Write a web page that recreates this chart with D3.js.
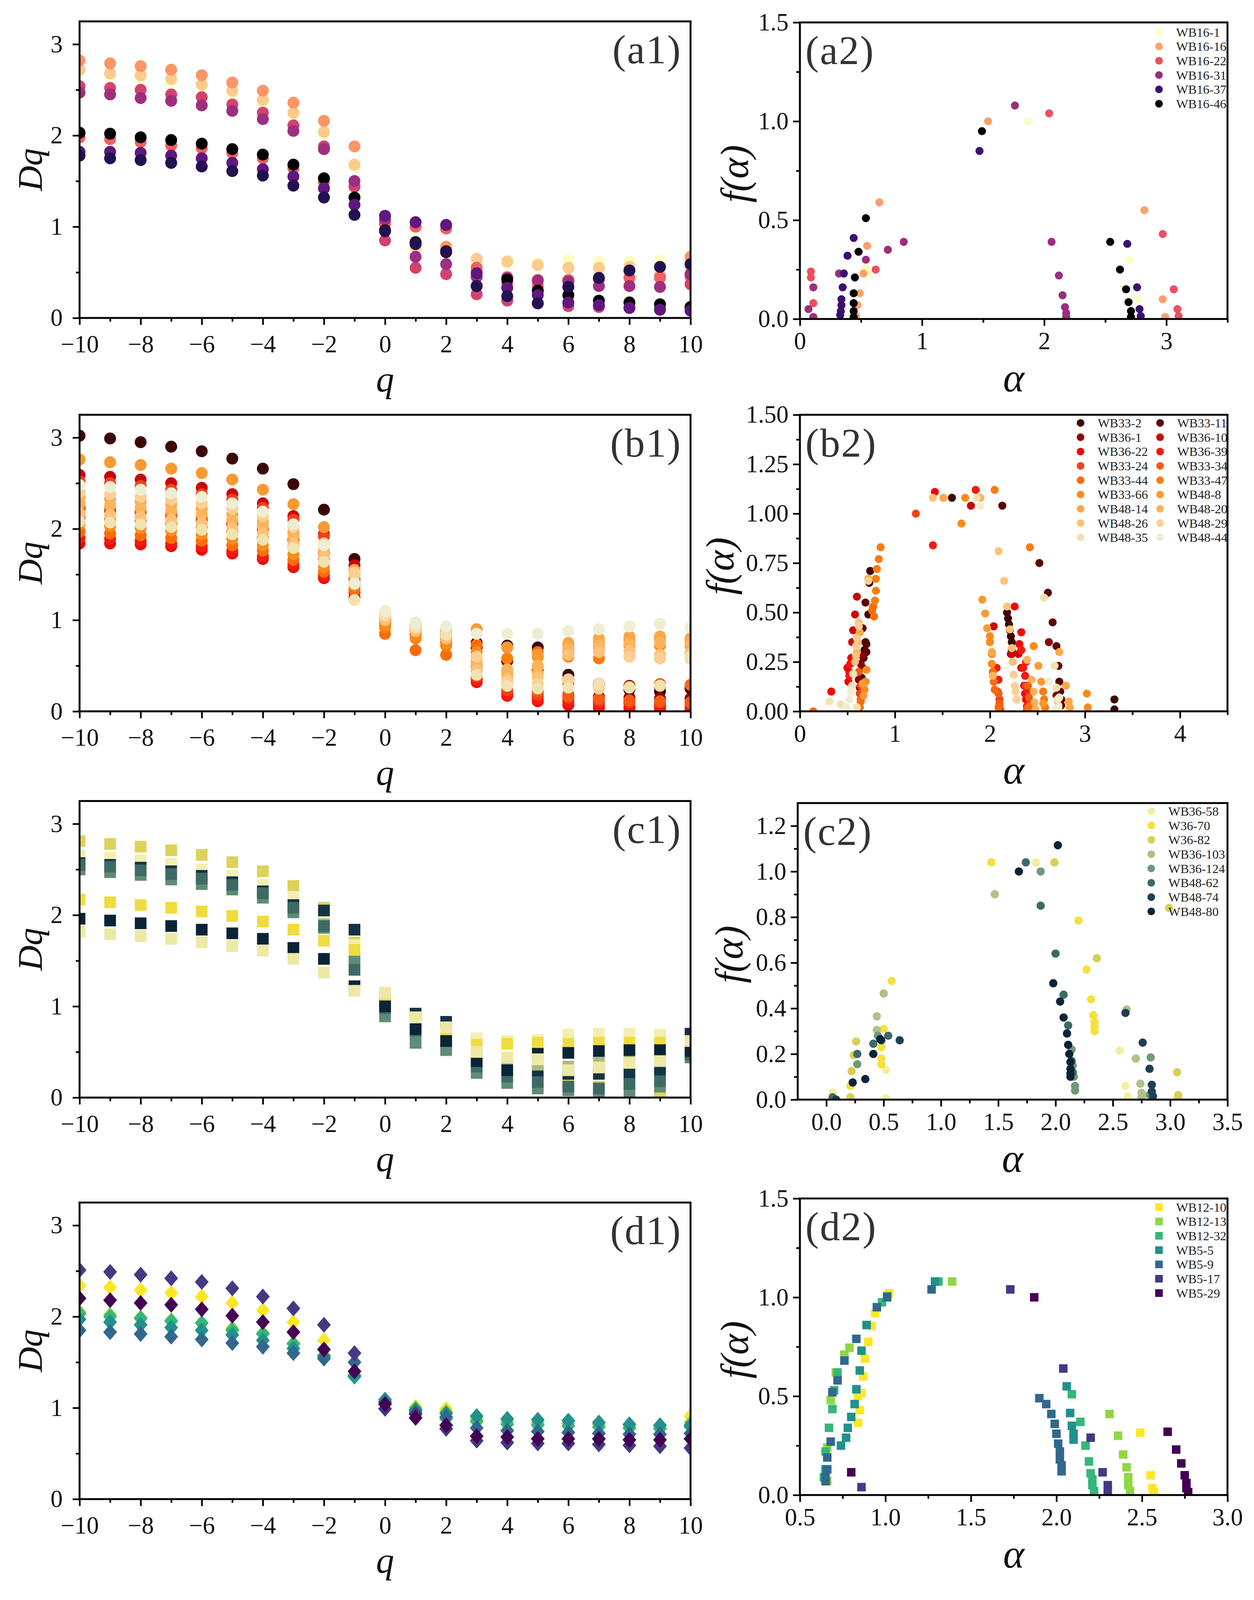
<!DOCTYPE html>
<html lang="en">
<head>
<meta charset="UTF-8">
<title>Dq and f(alpha) spectra</title>
<script src="https://cdn.jsdelivr.net/npm/d3@7"></script>
<style>
  html, body { margin: 0; padding: 0; background: #fff; overflow: hidden; }
  #fig { display: block; }
  text { font-family: "Liberation Serif", "Times New Roman", serif; }
</style>
</head>
<body>
<svg id="fig"></svg>
<script>
// ---- data ----
var qValues = [-10,-9,-8,-7,-6,-5,-4,-3,-2,-1,0,1,2,3,4,5,6,7,8,9,10];

// (a1) generalized dimensions, magma tones
var a1Colors = ["#fcfdbf","#feca8d","#fd9567","#f1605d","#d3436e","#9e2f7f","#000004","#5f187f","#231151"];
var a1Dq = [
  [2.70,2.66,2.63,2.59,2.54,2.47,2.37,2.23,2.02,1.65, 1.00,0.80,0.75,0.60,0.60,0.60,0.63,0.62,0.62,0.63,0.62],
  [2.72,2.68,2.66,2.62,2.56,2.49,2.39,2.25,2.04,1.68, 1.02,0.78,0.76,0.65,0.62,0.58,0.55,0.55,0.56,0.55,0.55],
  [2.82,2.79,2.76,2.72,2.66,2.58,2.49,2.36,2.16,1.88, 1.05,0.82,0.78,0.52,0.45,0.42,0.42,0.43,0.44,0.46,0.67],
  [1.98,1.96,1.93,1.89,1.86,1.81,1.75,1.64,1.49,1.44, 1.03,1.00,0.98,0.55,0.38,0.35,0.41,0.42,0.44,0.44,0.45],
  [2.54,2.52,2.50,2.45,2.42,2.34,2.25,2.11,1.88,1.44, 0.85,0.55,0.48,0.26,0.19,0.16,0.13,0.12,0.11,0.10,0.37],
  [2.47,2.45,2.41,2.38,2.33,2.27,2.18,2.05,1.85,1.50, 1.08,0.67,0.59,0.45,0.44,0.41,0.40,0.35,0.35,0.34,0.48],
  [2.03,2.02,1.98,1.95,1.91,1.85,1.79,1.68,1.53,1.32, 0.96,0.83,0.73,0.35,0.42,0.30,0.25,0.19,0.17,0.15,0.12],
  [1.82,1.82,1.81,1.78,1.75,1.70,1.63,1.55,1.42,1.24, 1.12,1.05,1.02,0.49,0.33,0.25,0.17,0.14,0.11,0.09,0.08],
  [1.78,1.75,1.73,1.70,1.66,1.61,1.56,1.45,1.32,1.13, 0.95,0.81,0.72,0.35,0.24,0.16,0.34,0.44,0.52,0.56,0.59]
];

// (a2) singularity spectra
var aNames = ["WB16-1","WB16-16","WB16-22","WB16-31","WB16-37","WB16-46"];
var aColors = ["#fcfdbf","#fe9f6d","#ec5062","#9c2e7f","#3b0f70","#000004"];
var a2Points = [
  [[0.54,0.26],[0.56,0.23],[1.87,1.00],[2.70,0.30],[2.77,0.10]],
  [[0.46,0.015],[0.47,0.07],[0.49,0.13],[0.52,0.23],[0.55,0.37],[0.65,0.59],[1.54,1.00],[2.82,0.55],[2.97,0.10],[2.99,0.01]],
  [[0.09,0.24],[0.09,0.21],[0.11,0.08],[0.62,0.25],[2.04,1.04],[2.97,0.43],[3.06,0.15],[3.09,0.05],[3.10,0.015]],
  [[0.07,0.05],[0.11,0.16],[0.11,0.01],[0.32,0.23],[0.54,0.30],[0.72,0.35],[0.85,0.39],[1.76,1.08],[2.06,0.39],[2.12,0.22],[2.15,0.12],[2.17,0.06],[2.18,0.03],[2.18,0.01]],
  [[0.33,0.02],[0.335,0.04],[0.34,0.07],[0.34,0.10],[0.35,0.16],[0.36,0.23],[0.39,0.32],[0.44,0.41],[1.47,0.85],[2.68,0.38],[2.76,0.16],[2.78,0.05],[2.79,0.015]],
  [[0.44,0.01],[0.44,0.04],[0.44,0.08],[0.44,0.13],[0.45,0.21],[0.48,0.34],[0.54,0.51],[1.49,0.95],[2.54,0.39],[2.62,0.25],[2.67,0.15],[2.69,0.085],[2.71,0.04],[2.71,0.01]]
];

// (b) 18 samples
var bNames = ["WB33-2","WB33-11","WB36-1","WB36-10","WB36-22","WB36-39","WB33-24","WB33-34","WB33-44",
              "WB33-47","WB33-66","WB48-8","WB48-14","WB48-20","WB48-26","WB48-29","WB48-35","WB48-44"];
var bColors = ["#3d0606","#5c0303","#8b0404","#c90808","#f00505","#f41a12","#f4411a","#f85a12","#fa6c0a",
               "#fb7d10","#fb8c1c","#fb9a32","#fca846","#fcb45c","#fdc278","#fdcf94","#f2e2b0","#efeed3"];
var b1Dq = [
  [3.02,2.99,2.95,2.90,2.85,2.77,2.66,2.49,2.21,1.67, 1.02,0.95,0.88,0.75,0.72,0.70,0.40,0.30,0.24,0.22,0.25],
  [2.22,2.20,2.18,2.14,2.10,2.05,1.99,1.88,1.73,1.45, 1.00,0.92,0.85,0.70,0.55,0.45,0.35,0.30,0.28,0.27,0.28],
  [2.12,2.10,2.08,2.05,2.01,1.96,1.90,1.80,1.66,1.40, 0.98,0.90,0.83,0.45,0.30,0.22,0.18,0.16,0.15,0.14,0.14],
  [2.59,2.57,2.54,2.50,2.45,2.38,2.28,2.14,1.94,1.60, 1.00,0.88,0.80,0.36,0.20,0.16,0.12,0.10,0.09,0.08,0.08],
  [1.84,1.84,1.83,1.81,1.77,1.73,1.67,1.58,1.46,1.25, 0.95,0.85,0.75,0.32,0.17,0.11,0.07,0.04,0.03,0.02,0.02],
  [1.90,1.89,1.87,1.84,1.81,1.76,1.70,1.61,1.49,1.30, 0.96,0.86,0.78,0.34,0.19,0.13,0.10,0.07,0.05,0.05,0.05],
  [2.52,2.50,2.47,2.43,2.38,2.32,2.23,2.10,1.92,1.52, 1.00,0.88,0.80,0.38,0.23,0.18,0.15,0.12,0.10,0.10,0.09],
  [2.24,2.22,2.19,2.16,2.12,2.07,2.00,1.89,1.74,1.36, 0.97,0.88,0.80,0.50,0.28,0.22,0.17,0.14,0.12,0.11,0.10],
  [1.97,1.95,1.93,1.90,1.87,1.82,1.76,1.66,1.53,1.33, 0.85,0.67,0.62,0.73,0.70,0.65,0.30,0.28,0.27,0.30,0.29],
  [2.12,2.11,2.08,2.05,2.02,1.96,1.90,1.80,1.64,1.42, 0.92,0.80,0.72,0.60,0.58,0.60,0.60,0.58,0.60,0.58,0.60],
  [2.05,2.03,2.01,1.98,1.94,1.89,1.82,1.72,1.58,1.38, 0.95,0.82,0.75,0.65,0.45,0.48,0.65,0.70,0.72,0.72,0.72],
  [2.76,2.73,2.70,2.66,2.61,2.54,2.43,2.27,2.02,1.50, 1.08,0.97,0.90,0.90,0.70,0.62,0.72,0.75,0.78,0.80,0.78],
  [2.35,2.33,2.30,2.27,2.22,2.16,2.08,1.96,1.78,1.55, 1.05,0.93,0.86,0.55,0.40,0.42,0.75,0.80,0.82,0.82,0.80],
  [2.28,2.26,2.23,2.20,2.16,2.10,2.03,1.92,1.76,1.48, 1.02,0.90,0.82,0.52,0.46,0.50,0.68,0.72,0.74,0.75,0.74],
  [2.17,2.15,2.13,2.10,2.06,2.01,1.95,1.84,1.70,1.50, 1.00,0.88,0.80,0.45,0.35,0.38,0.62,0.65,0.66,0.62,0.64],
  [2.40,2.38,2.35,2.32,2.28,2.22,2.14,2.02,1.84,1.52, 1.05,0.95,0.88,0.60,0.32,0.30,0.35,0.25,0.60,0.58,0.58],
  [2.08,2.07,2.05,2.02,1.99,1.94,1.88,1.79,1.64,1.22, 1.06,0.92,0.84,0.40,0.28,0.25,0.26,0.30,0.26,0.28,0.60],
  [2.48,2.46,2.43,2.39,2.35,2.28,2.19,2.05,1.82,1.40, 1.10,0.97,0.93,0.85,0.85,0.85,0.88,0.90,0.93,0.96,0.92]
];
var b2Points = [
  [[0.65,0.17],[0.66,0.22],[0.67,0.27],[0.68,0.31],[0.69,0.35],[0.72,0.49],[0.73,0.65],[0.74,0.71],[1.60,1.08],[2.18,0.50],[2.19,0.47],[2.20,0.44],[2.21,0.41],[2.22,0.38],[2.23,0.35],[2.23,0.31],[3.31,0.06],[3.31,0.01]],
  [[0.66,0.42],[0.69,0.55],[0.70,0.34],[0.70,0.30],[2.13,1.04],[2.52,0.75],[2.61,0.60],[2.66,0.45],[2.70,0.33],[2.72,0.23],[2.73,0.15],[2.74,0.10],[2.75,0.06],[2.75,0.03]],
  [[0.62,0.16],[0.64,0.24],[0.66,0.28],[0.63,0.12],[2.22,0.29],[2.62,0.35],[2.70,0.08],[2.72,0.05]],
  [[0.55,0.35],[0.56,0.41],[0.58,0.49],[0.60,0.58],[1.80,1.04],[2.04,0.43],[2.23,0.29],[2.30,0.29],[2.33,0.22]],
  [[0.33,0.10],[0.50,0.22],[0.51,0.15],[0.52,0.20],[0.54,0.27],[1.42,1.11],[2.26,0.53],[2.31,0.34],[2.33,0.40],[2.36,0.13],[2.37,0.09],[2.38,0.06],[2.39,0.025]],
  [[0.53,0.24],[0.52,0.18],[1.40,0.84],[1.85,1.12],[2.07,0.22],[2.09,0.16],[2.33,0.31],[2.35,0.22],[2.38,0.25],[2.37,0.18],[2.40,0.10],[2.41,0.04]],
  [[0.63,0.09],[0.64,0.13],[1.22,1.00],[2.08,0.10],[2.10,0.06],[2.10,0.025],[2.11,0.006],[2.38,0.13],[2.39,0.01]],
  [[0.62,0.20],[0.64,0.06],[2.09,0.09],[2.10,0.04],[2.40,0.13],[2.41,0.07],[2.42,0.03],[2.42,0.01]],
  [[0.14,0.00],[0.63,0.02],[0.64,0.05],[0.76,0.51],[0.78,0.48],[0.77,0.53],[2.03,0.20],[2.04,0.15],[2.05,0.11],[2.09,0.02],[2.40,0.02]],
  [[0.79,0.56],[0.80,0.61],[0.80,0.67],[0.81,0.72],[0.83,0.77],[0.85,0.83],[2.05,1.12],[2.42,0.83],[2.56,0.10],[2.57,0.06],[2.58,0.02]],
  [[0.68,0.11],[0.70,0.21],[0.69,0.15],[1.70,0.95],[1.74,1.08],[2.00,0.38],[2.00,0.35],[2.02,0.29],[2.02,0.24],[2.46,0.33],[3.02,0.09],[3.03,0.02]],
  [[0.66,0.14],[0.67,0.08],[1.92,0.565],[1.95,0.495],[1.97,0.42],[2.51,0.23],[2.54,0.15],[2.56,0.04]],
  [[0.63,0.40],[0.72,0.67],[1.51,1.08],[2.02,0.30],[2.73,0.30],[2.80,0.13],[2.83,0.05],[2.84,0.02]],
  [[0.60,0.30],[0.61,0.35],[1.90,1.08],[2.03,0.18],[2.39,0.26],[2.44,0.16],[2.46,0.10],[2.47,0.045],[2.48,0.01]],
  [[0.58,0.25],[0.59,0.28],[0.62,0.45],[1.40,1.08],[2.09,0.81],[2.15,0.66],[2.18,0.53],[2.21,0.415],[2.23,0.32],[2.24,0.25]],
  [[0.59,0.33],[0.60,0.37],[0.62,0.43],[0.72,0.66],[2.25,0.185],[2.26,0.13],[2.27,0.10],[2.28,0.06]],
  [[0.31,0.05],[0.43,0.035],[0.55,0.13],[0.56,0.19],[0.60,0.02],[1.86,1.08],[2.57,0.575],[2.68,0.23],[2.70,0.12],[2.71,0.06],[2.72,0.03]],
  [[0.49,0.02],[0.52,0.06],[0.54,0.10],[0.50,0.01],[1.90,1.04],[2.62,0.15],[2.73,0.07],[2.72,0.02],[2.69,0.01]]
];

// (c)
var c1Colors = ["#ddd25a","#f2efb0","#143346","#a9bb86","#5f8c76","#3e6a66","#f0dc40","#0b2336","#ede9a5"];
var c1Dq = [
  [2.81,2.78,2.75,2.71,2.66,2.58,2.48,2.32,2.08,1.70, 1.12,0.80,0.70,0.48,0.41,0.40,0.15,0.12,0.15,0.05,0.60],
  [2.65,2.63,2.60,2.56,2.50,2.43,2.33,2.20,1.98,1.67, 1.14,0.85,0.74,0.65,0.62,0.63,0.69,0.70,0.70,0.69,0.66],
  [2.57,2.55,2.52,2.48,2.43,2.36,2.26,2.11,2.05,1.84, 1.03,0.92,0.83,0.40,0.30,0.29,0.26,0.26,0.26,0.29,0.70],
  [2.53,2.51,2.47,2.43,2.39,2.32,2.22,2.06,1.90,1.56, 0.95,0.62,0.55,0.45,0.38,0.36,0.34,0.38,0.42,0.44,0.44],
  [2.50,2.47,2.44,2.39,2.34,2.28,2.19,2.03,1.86,1.49, 0.89,0.60,0.52,0.27,0.16,0.10,0.08,0.05,0.05,0.12,0.44],
  [2.55,2.53,2.49,2.45,2.40,2.33,2.24,2.08,1.88,1.40, 0.98,0.73,0.62,0.34,0.23,0.17,0.12,0.10,0.15,0.18,0.47],
  [2.17,2.14,2.11,2.08,2.04,1.99,1.93,1.84,1.72,1.62, 1.10,0.82,0.72,0.58,0.59,0.60,0.59,0.60,0.60,0.60,0.60],
  [1.96,1.94,1.91,1.88,1.84,1.80,1.74,1.64,1.52,1.22, 1.00,0.75,0.62,0.40,0.30,0.48,0.49,0.51,0.52,0.52,0.51],
  [1.82,1.79,1.77,1.74,1.70,1.66,1.61,1.52,1.37,1.17, 1.15,0.88,0.77,0.50,0.44,0.42,0.30,0.33,0.38,0.40,0.62]
];
var cNames = ["WB36-58","W36-70","W36-82","WB36-103","WB36-124","WB48-62","WB48-74","WB48-80"];
var cColors = ["#f3eea0","#f5e03c","#d9cf55","#b0c088","#6f9a7e","#3e6a66","#1c4152","#0b2336"];
var c2Points = [
  [[0.055,0.03],[0.52,0.13],[0.52,0.005],[1.83,1.04],[2.56,0.215],[2.61,0.06],[2.63,0.015]],
  [[0.21,0.06],[0.50,0.31],[0.48,0.23],[0.48,0.18],[0.48,0.155],[0.57,0.52],[1.44,1.04],[2.20,0.785],[2.27,0.57],[2.31,0.44],[2.33,0.37],[2.34,0.34],[2.34,0.32],[2.34,0.30]],
  [[0.21,0.01],[0.22,0.125],[0.24,0.195],[0.26,0.255],[1.99,1.04],[2.36,0.62],[2.99,0.84],[3.06,0.12],[3.07,0.02],[3.07,0.01]],
  [[0.44,0.305],[0.44,0.365],[0.50,0.465],[1.47,0.90],[2.62,0.395],[2.70,0.18],[2.74,0.07],[2.75,0.03],[2.75,0.01]],
  [[0.27,0.155],[0.45,0.28],[1.87,1.00],[2.14,0.22],[2.15,0.15],[2.16,0.10],[2.17,0.06],[2.17,0.04],[2.83,0.185],[2.82,0.02]],
  [[0.055,0.01],[0.27,0.20],[0.41,0.245],[0.54,0.28],[1.74,1.04],[1.87,0.85],[2.00,0.64],[2.07,0.46],[2.11,0.325],[2.14,0.17],[2.15,0.12]],
  [[0.085,0.0],[0.48,0.26],[0.64,0.26],[2.61,0.38],[2.76,0.25],[2.82,0.135],[2.84,0.065],[2.84,0.035],[2.85,0.015]],
  [[0.23,0.075],[0.34,0.09],[0.41,0.20],[0.47,0.265],[1.68,1.00],[2.02,1.115],[1.98,0.51],[2.04,0.43],[2.07,0.36],[2.10,0.29],[2.11,0.24],[2.12,0.20],[2.13,0.165],[2.13,0.135],[2.13,0.115],[2.13,0.10]]
];

// (d)
var dNames = ["WB12-10","WB12-13","WB12-32","WB5-5","WB5-9","WB5-17","WB5-29"];
var dColors = ["#fde725","#90d743","#35b779","#21918c","#31688e","#443983","#440154"];
var d1Dq = [
  [2.34,2.32,2.29,2.26,2.22,2.15,2.07,1.94,1.74,1.40, 1.05,1.01,0.99,0.86,0.83,0.82,0.80,0.79,0.77,0.78,0.91],
  [2.05,2.02,1.99,1.96,1.93,1.87,1.82,1.71,1.58,1.36, 1.06,1.00,0.96,0.88,0.85,0.84,0.83,0.82,0.81,0.80,0.84],
  [2.03,2.00,1.98,1.95,1.93,1.85,1.81,1.70,1.57,1.34, 1.07,0.97,0.88,0.85,0.82,0.81,0.80,0.79,0.78,0.77,0.79],
  [1.97,1.94,1.91,1.88,1.85,1.80,1.74,1.65,1.56,1.35, 1.09,0.98,0.94,0.91,0.88,0.87,0.86,0.84,0.82,0.81,0.81],
  [1.85,1.83,1.81,1.78,1.75,1.71,1.67,1.60,1.54,1.50, 1.06,0.95,0.90,0.78,0.75,0.74,0.73,0.72,0.71,0.71,0.72],
  [2.51,2.49,2.46,2.42,2.38,2.31,2.22,2.09,1.91,1.60, 0.99,0.93,0.77,0.64,0.62,0.61,0.61,0.60,0.59,0.58,0.56],
  [2.20,2.18,2.15,2.13,2.08,2.01,1.94,1.83,1.64,1.40, 1.04,0.89,0.81,0.69,0.68,0.66,0.66,0.66,0.65,0.65,0.66]
];
var d2Points = [
  [[0.84,0.365],[0.85,0.43],[0.84,0.50],[0.86,0.515],[0.87,0.60],[0.88,0.69],[0.90,0.775],[0.92,0.855],[0.94,0.92],[1.02,1.02],[2.49,0.315],[2.55,0.10],[2.56,0.035],[2.57,0.015]],
  [[0.66,0.07],[0.66,0.24],[0.68,0.48],[0.71,0.62],[0.76,0.71],[0.79,0.745],[1.39,1.08],[2.31,0.41],[2.36,0.30],[2.39,0.205],[2.41,0.14],[2.42,0.09],[2.42,0.05],[2.43,0.02]],
  [[0.64,0.09],[0.65,0.22],[0.67,0.34],[0.69,0.435],[0.70,0.53],[0.72,0.62],[0.98,0.975],[1.31,1.08],[2.09,0.51],[2.14,0.37],[2.17,0.25],[2.19,0.17],[2.20,0.11],[2.21,0.08],[2.21,0.05],[2.22,0.02]],
  [[0.65,0.13],[0.74,0.25],[0.77,0.29],[0.78,0.34],[0.80,0.395],[0.82,0.46],[0.83,0.535],[0.85,0.63],[0.86,0.73],[0.89,0.86],[1.01,1.005],[1.29,1.08],[2.06,0.55],[2.08,0.415],[2.09,0.35],[2.10,0.31],[2.10,0.28]],
  [[0.65,0.07],[0.65,0.09],[0.66,0.13],[0.66,0.19],[0.68,0.27],[0.69,0.52],[0.72,0.58],[0.76,0.68],[0.83,0.79],[0.95,0.95],[1.01,1.00],[1.27,1.04],[1.90,0.49],[1.94,0.46],[1.97,0.41],[1.99,0.36],[2.00,0.31],[2.01,0.26],[2.02,0.22],[2.02,0.18],[2.03,0.15],[2.03,0.12]],
  [[0.86,0.04],[1.73,1.04],[2.04,0.64],[2.20,0.29],[2.27,0.115],[2.30,0.05],[2.30,0.02]],
  [[0.80,0.115],[1.87,1.00],[2.65,0.32],[2.70,0.23],[2.73,0.16],[2.75,0.10],[2.76,0.06],[2.76,0.035],[2.77,0.015]]
];

// ---- drawing ----
// layout is worked out on a 1135 x 1570 grid, then stretched to the real viewport;
// glyphs and markers use one common factor so they keep their shape
var VW = window.innerWidth || 3209, VH = window.innerHeight || 4439;
var sx = VW / 1135, sy = VH / 1570, s = (sx + sy) / 2;
function X(v) { return v * sx; }
function Y(v) { return v * sy; }
function S(v) { return v * s; }
function box(x0, x1, y0, y1) { return {x0: X(x0), x1: X(x1), y0: Y(y0), y1: Y(y1)}; }

var svg = d3.select("#fig").attr("width", VW).attr("height", VH);
svg.append("rect").attr("width", VW).attr("height", VH).attr("fill", "#fff");
var defs = svg.append("defs");

var serif = '"Liberation Serif", "Times New Roman", serif';

function styleAxis(a) {
  a.select(".domain").remove();
  a.selectAll("line").attr("stroke", "#000").attr("stroke-width", S(1.6));
  a.selectAll("text").attr("fill", "#111")
    .style("font-family", serif).style("font-size", S(23) + "px");
  return a;
}

function clipFor(id, b) {
  defs.append("clipPath").attr("id", id).append("rect")
    .attr("x", b.x0).attr("y", b.y0).attr("width", b.x1 - b.x0).attr("height", b.y1 - b.y0);
  return "url(#" + id + ")";
}

function frame(b) {
  svg.append("rect").attr("x", b.x0).attr("y", b.y0)
    .attr("width", b.x1 - b.x0).attr("height", b.y1 - b.y0)
    .attr("fill", "none").attr("stroke", "#000").attr("stroke-width", S(1.8));
}

function drawAxes(b, x, y, xMaj, xMin, yMaj, yMin, xFmt, yFmt, xPad, yPad) {
  styleAxis(svg.append("g").attr("transform", "translate(0," + b.y1 + ")")
    .call(d3.axisBottom(x).tickValues(xMin).tickSize(S(3.5)).tickFormat("")));
  styleAxis(svg.append("g").attr("transform", "translate(0," + b.y1 + ")")
    .call(d3.axisBottom(x).tickValues(xMaj).tickSize(S(6.5)).tickPadding(Y(xPad)).tickFormat(xFmt)));
  styleAxis(svg.append("g").attr("transform", "translate(" + b.x0 + ",0)")
    .call(d3.axisLeft(y).tickValues(yMin).tickSize(S(3.5)).tickFormat("")));
  styleAxis(svg.append("g").attr("transform", "translate(" + b.x0 + ",0)")
    .call(d3.axisLeft(y).tickValues(yMaj).tickSize(S(6.5)).tickPadding(X(yPad)).tickFormat(yFmt)));
}

function marker(sel, shape, size) {
  var r = S(size);
  if (shape === "circle") {
    return sel.append("circle").attr("r", r);
  } else if (shape === "square") {
    return sel.append("rect").attr("x", -r).attr("y", -r).attr("width", 2 * r).attr("height", 2 * r);
  }
  // diamond, a bit taller than wide
  return sel.append("path")
    .attr("d", "M0," + (-r * 1.15) + "L" + r + ",0L0," + (r * 1.15) + "L" + (-r) + ",0Z");
}

function panelLabel(b, txt, side) {
  var t = svg.append("text").text(txt)
    .attr("y", b.y0 + Y(41))
    .attr("fill", "#333").style("font-family", serif).style("font-size", S(38) + "px")
    .style("letter-spacing", S(1) + "px");
  if (side === "right") t.attr("x", b.x1 - X(8)).attr("text-anchor", "end");
  else t.attr("x", b.x0 + X(5)).attr("text-anchor", "start");
}

function dqPanel(b, id, colors, series, shape, size, label) {
  var x = d3.scaleLinear().domain([-10, 10]).range([b.x0, b.x1]);
  var y = d3.scaleLinear().domain([0, 3.25]).range([b.y1, b.y0]);
  var g = svg.append("g").attr("clip-path", clipFor(id, b));
  series.forEach(function(ser, k) {
    var pts = ser.map(function(v, i) { return [qValues[i], v]; });
    g.append("g").selectAll("g").data(pts).enter().append("g")
      .attr("transform", function(d) { return "translate(" + x(d[0]) + "," + y(d[1]) + ")"; })
      .each(function() { marker(d3.select(this), shape, size).attr("fill", colors[k]); });
  });
  frame(b);
  drawAxes(b, x, y,
    [-10,-8,-6,-4,-2,0,2,4,6,8,10], [-9,-7,-5,-3,-1,1,3,5,7,9],
    [0,1,2,3], [0.5,1.5,2.5],
    d3.format("d"), d3.format("d"), 10, 9);
  svg.append("text").text("Dq")
    .attr("transform", "translate(" + (b.x0 - X(34)) + "," + ((b.y0 + b.y1) / 2) + ") rotate(-90)")
    .attr("text-anchor", "middle").style("font-family", serif).style("font-style", "italic")
    .style("font-size", S(33) + "px").attr("fill", "#111");
  svg.append("text").text("q")
    .attr("x", (b.x0 + b.x1) / 2).attr("y", b.y1 + Y(72))
    .attr("text-anchor", "middle").style("font-family", serif).style("font-style", "italic")
    .style("font-size", S(34) + "px").attr("fill", "#111");
  panelLabel(b, label, "right");
}

function spectrumPanel(b, id, opt) {
  var x = d3.scaleLinear().domain(opt.xDom).range([b.x0, b.x1]);
  var y = d3.scaleLinear().domain(opt.yDom).range([b.y1, b.y0]);
  var g = svg.append("g").attr("clip-path", clipFor(id, b));
  opt.points.forEach(function(ser, k) {
    g.append("g").selectAll("g").data(ser).enter().append("g")
      .attr("transform", function(d) { return "translate(" + x(d[0]) + "," + y(d[1]) + ")"; })
      .each(function() { marker(d3.select(this), opt.shape, opt.size).attr("fill", opt.colors[k]); });
  });
  frame(b);
  drawAxes(b, x, y, opt.xMaj, opt.xMin, opt.yMaj, opt.yMin, opt.xFmt, opt.yFmt, 6, 4);
  svg.append("text").text("f(\u03b1)")
    .attr("transform", "translate(" + (b.x0 - X(opt.yLabelOff)) + "," + ((b.y0 + b.y1) / 2 + Y(3)) + ") rotate(-90)")
    .attr("text-anchor", "middle").style("font-family", serif).style("font-style", "italic")
    .style("font-size", S(37) + "px").attr("fill", "#111");
  svg.append("text").text("\u03b1")
    .attr("x", (b.x0 + b.x1) / 2).attr("y", b.y1 + Y(71))
    .attr("text-anchor", "middle").style("font-family", serif).style("font-style", "italic")
    .style("font-size", S(38) + "px").attr("fill", "#111");
  panelLabel(b, opt.label, "left");

  // legend
  var lg = svg.append("g");
  opt.names.forEach(function(n, k) {
    var col = opt.legendCols === 2 ? k % 2 : 0;
    var row = opt.legendCols === 2 ? Math.floor(k / 2) : k;
    var mx = X(opt.legendX[col]), my = Y(opt.legendY + row * 14.05);
    var it = lg.append("g").attr("transform", "translate(" + mx + "," + my + ")");
    marker(it, opt.shape, 3.6).attr("fill", opt.colors[k]);
    it.append("text").text(n).attr("x", X(15.5)).attr("dy", "0.35em")
      .style("font-family", serif).style("font-size", S(12) + "px").attr("fill", "#222");
  });
}

// row a
dqPanel(box(72, 625, 21, 312), "clipA1", a1Colors, a1Dq, "circle", 5.6, "(a1)");
spectrumPanel(box(724, 1111, 22, 313), "clipA2", {
  xDom: [0, 3.5], yDom: [0, 1.5],
  xMaj: [0,1,2,3], xMin: [0.5,1.5,2.5,3.5], yMaj: [0,0.5,1.0,1.5], yMin: [0.25,0.75,1.25],
  xFmt: d3.format("d"), yFmt: d3.format(".1f"),
  points: a2Points, colors: aColors, names: aNames, shape: "circle", size: 3.8,
  label: "(a2)", legendCols: 1, legendX: [1049], legendY: 31.5, yLabelOff: 47
});

// row b
dqPanel(box(72, 625, 407, 698), "clipB1", bColors, b1Dq, "circle", 5.6, "(b1)");
spectrumPanel(box(724, 1111, 407, 698), "clipB2", {
  xDom: [0, 4.5], yDom: [0, 1.5],
  xMaj: [0,1,2,3,4], xMin: [0.5,1.5,2.5,3.5,4.5],
  yMaj: [0,0.25,0.5,0.75,1.0,1.25,1.5], yMin: [0.125,0.375,0.625,0.875,1.125,1.375],
  xFmt: d3.format("d"), yFmt: d3.format(".2f"),
  points: b2Points, colors: bColors, names: bNames, shape: "circle", size: 3.8,
  label: "(b2)", legendCols: 2, legendX: [978, 1050], legendY: 415, yLabelOff: 60
});

// row c
dqPanel(box(72, 625, 786, 1077), "clipC1", c1Colors, c1Dq, "square", 5.5, "(c1)");
spectrumPanel(box(722, 1111, 788, 1079), "clipC2", {
  xDom: [-0.25, 3.5], yDom: [0, 1.3],
  xMaj: [0,0.5,1.0,1.5,2.0,2.5,3.0,3.5], xMin: [0.25,0.75,1.25,1.75,2.25,2.75,3.25],
  yMaj: [0,0.2,0.4,0.6,0.8,1.0,1.2], yMin: [0.1,0.3,0.5,0.7,0.9,1.1],
  xFmt: d3.format(".1f"), yFmt: d3.format(".1f"),
  points: c2Points, colors: cColors, names: cNames, shape: "circle", size: 3.9,
  label: "(c2)", legendCols: 1, legendX: [1042], legendY: 796, yLabelOff: 50
});

// row d
dqPanel(box(72, 625, 1180, 1471), "clipD1", dColors, d1Dq, "diamond", 6.5, "(d1)");
spectrumPanel(box(724, 1111, 1176, 1467), "clipD2", {
  xDom: [0.5, 3.0], yDom: [0, 1.5],
  xMaj: [0.5,1.0,1.5,2.0,2.5,3.0], xMin: [0.75,1.25,1.75,2.25,2.75],
  yMaj: [0,0.5,1.0,1.5], yMin: [0.25,0.75,1.25],
  xFmt: d3.format(".1f"), yFmt: d3.format(".1f"),
  points: d2Points, colors: dColors, names: dNames, shape: "square", size: 4,
  label: "(d2)", legendCols: 1, legendX: [1049], legendY: 1184.5, yLabelOff: 47
});
</script>
</body>
</html>
